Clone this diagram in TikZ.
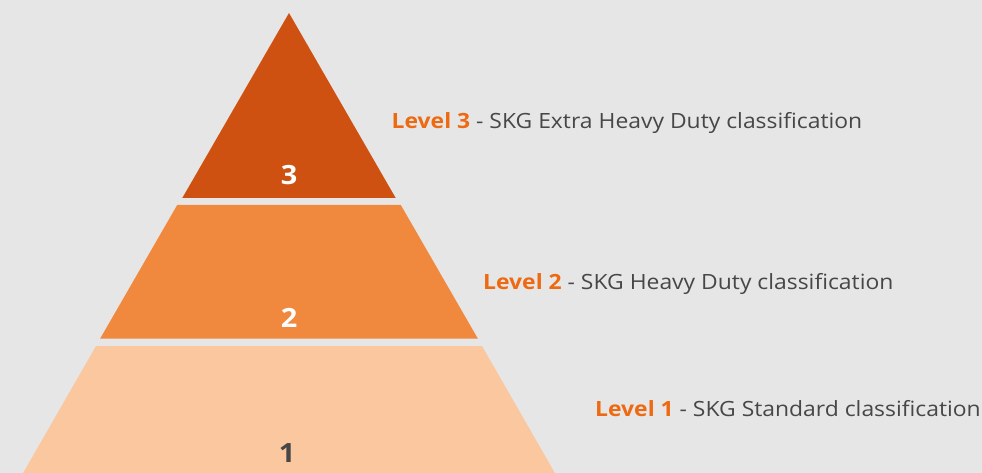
\documentclass[tikz,border=0pt]{standalone}
\usepackage{fontspec}
\setmainfont[FakeStretch=1.09]{Open Sans}
\definecolor{bg}{HTML}{E6E6E6}
\definecolor{lvthree}{HTML}{CF5112}
\definecolor{lvtwo}{HTML}{F0883E}
\definecolor{lvone}{HTML}{FAC79F}
\definecolor{lvorange}{HTML}{EE6A12}
\definecolor{lvgray}{HTML}{474747}
\begin{document}
\begin{tikzpicture}[x=1pt,y=-1pt,
  num/.style={anchor=base, font=\fontsize{26.5}{26}\selectfont\bfseries, inner sep=0pt},
  lab/.style={anchor=base west, inner sep=0pt, text=lvgray, font=\fontsize{21}{22}\selectfont}]
\fill[bg] (0,0) rectangle (982,473);
\useasboundingbox (0,0) rectangle (982,473);
% slope 0.577 per unit y, apex (289,13)
\fill[lvthree] (289,13) -- (395.7,198) -- (182.3,198) -- cycle;
\fill[lvtwo] (177.2,205) -- (400.8,205) -- (477.9,338.7) -- (100.1,338.7) -- cycle;
\fill[lvone] (96,346) -- (482,346) -- (556,475) -- (22,475) -- cycle;
\node[num, text=white] (n3) at (289,185) {3};
\node[num, text=white] (n2) at (289,327.3) {2};
\node[num, text=lvgray] (n1) at (287,462.3) {1};
\node[lab] (l3) at (391.5,128.3) {\textcolor{lvorange}{\bfseries Level 3} - SKG Extra Heavy Duty classification};
\node[lab] (l2) at (483,289.3) {\textcolor{lvorange}{\bfseries Level 2} - SKG Heavy Duty classification};
\node[lab] (l1) at (595,416.7) {\textcolor{lvorange}{\bfseries Level 1} - SKG Standard classification};
\end{tikzpicture}
\end{document}
